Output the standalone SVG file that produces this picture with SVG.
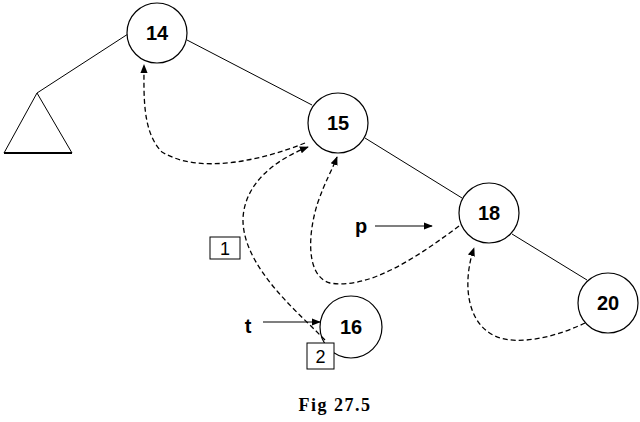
<svg xmlns="http://www.w3.org/2000/svg" width="640" height="422" viewBox="0 0 640 422">
<defs>
<style>
.node{fill:#fff;stroke:#000;stroke-width:1.2}
.lbl{font-family:"Liberation Sans",Arial,sans-serif;font-weight:bold;font-size:20px;text-anchor:middle;fill:#000}
.edge{stroke:#000;stroke-width:1;fill:none}
.thread{stroke:#000;stroke-width:1.3;fill:none;stroke-dasharray:5,3}
.ptr{stroke:#000;stroke-width:1.2;fill:none}
.box{fill:#fff;stroke:#000;stroke-width:1}
.boxt{font-family:"Liberation Sans",Arial,sans-serif;font-size:18px;text-anchor:middle;fill:#000}
.cap{font-family:"Liberation Serif","Times New Roman",serif;font-weight:bold;font-size:18px;letter-spacing:1.5px;text-anchor:middle;fill:#000}
</style>
<marker id="ah" viewBox="0 0 10 10" refX="9" refY="5" markerWidth="9" markerHeight="9" markerUnits="userSpaceOnUse" orient="auto">
<path d="M0,1 L10,5 L0,9 Z" fill="#000"/>
</marker>
</defs>
<g id="edges">
<line class="edge" x1="128" y1="34" x2="37" y2="93"/>
<line class="edge" x1="187" y1="40" x2="312" y2="105"/>
<line class="edge" x1="365" y1="138" x2="462" y2="198"/>
<line class="edge" x1="512" y1="234" x2="587" y2="280"/>
</g>
<g id="subtree">
<path d="M37,93 L4,153 L72,153 Z" fill="none" stroke="#000" stroke-width="1"/>
<line x1="4" y1="153" x2="72" y2="153" stroke="#000" stroke-width="2"/>
</g>
<g id="node14"><circle class="node" cx="157" cy="33" r="30"/><text class="lbl" x="157" y="40">14</text></g>
<g id="node15"><circle class="node" cx="338" cy="123" r="30"/><text class="lbl" x="338" y="130">15</text></g>
<g id="node18"><circle class="node" cx="489" cy="213" r="30"/><text class="lbl" x="489" y="220">18</text></g>
<g id="node20"><circle class="node" cx="608" cy="303" r="30"/><text class="lbl" x="608" y="310">20</text></g>
<g id="node16"><circle class="node" cx="351" cy="327" r="31"/><text class="lbl" x="351" y="334">16</text></g>
<g id="connectors">
<path class="thread" d="M305,143 C262,160 200,175 162,152 C142,132 144,95 144,65" marker-end="url(#ah)"/>
<path class="thread" d="M325,340 L311,326 C275,292 242,255 243,218 C245,183 275,160 308,147" marker-end="url(#ah)"/>
<path class="thread" d="M459,226 C420,255 370,290 330,283 C305,276 308,232 318,202 C325,182 332,170 337,157" marker-end="url(#ah)"/>
<path class="thread" d="M585,323 C560,335 520,347 495,336 C465,322 463,280 474,248" marker-end="url(#ah)"/>
<line class="ptr" x1="375" y1="226" x2="432" y2="226" marker-end="url(#ah)"/>
<line class="ptr" x1="263" y1="322" x2="320" y2="322" marker-end="url(#ah)"/>
</g>
<g id="pointers">
<text class="lbl" x="361" y="233">p</text>
<text class="lbl" x="248" y="333">t</text>
</g>
<g id="step1"><rect class="box" x="210" y="237" width="30" height="22"/><text class="boxt" x="225" y="255">1</text></g>
<g id="step2"><rect class="box" x="307" y="343" width="27" height="26"/><text class="boxt" x="320.5" y="363">2</text></g>
<text class="cap" x="335" y="411">Fig 27.5</text>
</svg>
